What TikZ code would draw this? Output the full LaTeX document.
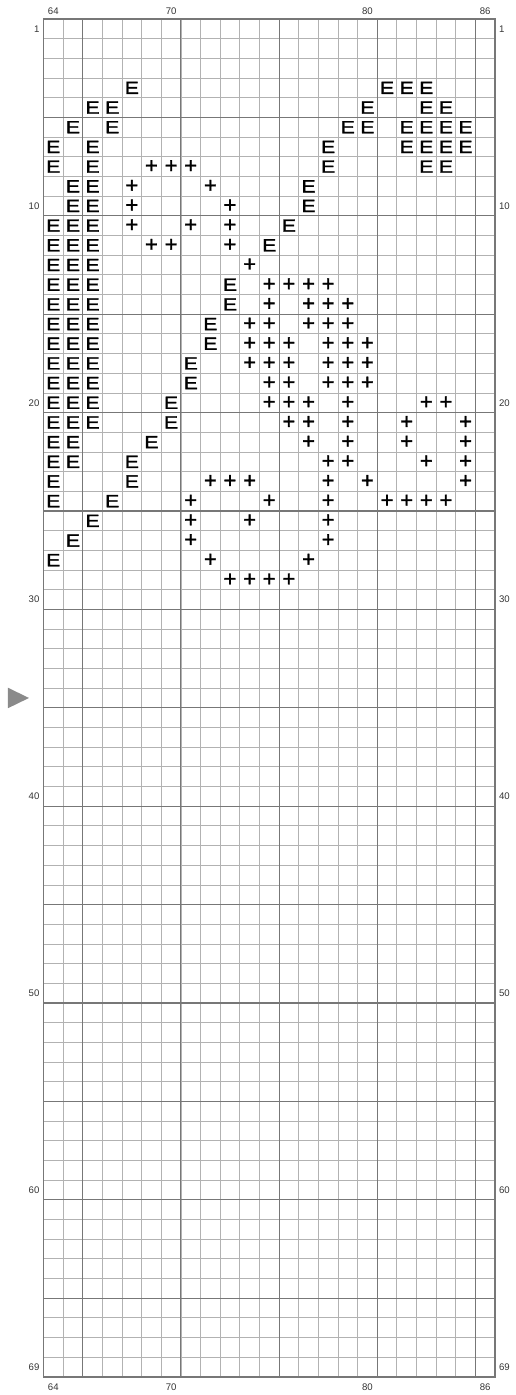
\documentclass[tikz,border=0pt]{standalone}
\usepackage{fontspec}
\setmainfont{Liberation Sans}
\usepackage{tikz}
\usetikzlibrary{positioning}
\definecolor{gridlo}{HTML}{B2B2B2}
\definecolor{gridhi}{HTML}{777777}
\definecolor{ink}{HTML}{333333}
\definecolor{marker}{HTML}{8A8A8A}
\newfontfamily\stitchfont[FakeStretch=1.2, FakeBold=1.6]{Liberation Sans}
\newfontfamily\plusfont[FakeBold=1.4]{Liberation Sans}
\newcommand{\stitchE}{\stitchfont\fontsize{17.7}{18}\selectfont}
\newcommand{\stitchP}{\plusfont\fontsize{22}{24}\selectfont}
\tikzset{
  gridthin/.style={draw=gridlo, line width=0.8pt},
  gridthick/.style={draw=gridhi, line width=1.1pt},
  gridframe/.style={draw=gridhi, line width=1.2pt},
  axislbl/.style={font=\fontsize{9.6}{10}\selectfont, text=ink, inner sep=0pt},
  stE/.style={font=\stitchE, text=black, inner sep=0pt},
  stP/.style={font=\stitchP, text=black, inner sep=0pt},
  midmark/.style={fill=marker, draw=none}
}

\begin{document}
\begin{tikzpicture}[x=19.63pt, y=-19.68pt]
  \useasboundingbox (-43.5pt,19pt) rectangle (471.5pt,-1376pt);
  % grid, heavier every fifth line
  \foreach \k in {1,...,22} \draw[gridthin] (\k,0) -- (\k,69);
  \foreach \r in {1,...,68} \draw[gridthin] (0,\r) -- (23,\r);
  \foreach \k in {2,7,...,22} \draw[gridthick] (\k,0) -- (\k,69);
  \foreach \r in {5,10,...,65} \draw[gridthick] (0,\r) -- (23,\r);
  \draw[gridframe] (0,0) rectangle (23,69);
  % column and row numbers
  \foreach \c in {64,70,80,86} {
    \node[axislbl] (top-\c) at (\c-63.5,-0.42) {\c};
    \node[axislbl] (bot-\c) at (\c-63.5,69.51) {\c};
  }
  \foreach \r in {1,10,20,30,40,50,60,69} {
    \node[axislbl, anchor=east] (lft-\r) at (-0.2,\r-0.5) {\r};
    \node[axislbl, anchor=west] (rgt-\r) at (23.2,\r-0.5) {\r};
  }
  \fill[midmark] (-1.81,33.98) -- (-0.74,34.5) -- (-1.81,35.02) -- cycle;
  % stitches: E
  \foreach \r/\cols in {4/{68,81,82,83}, 5/{66,67,80,83,84},
      6/{65,67,79,80,82,83,84,85}, 7/{64,66,78,82,83,84,85},
      8/{64,66,78,83,84}, 9/{65,66,77}, 10/{65,66,77},
      11/{64,65,66,76}, 12/{64,65,66,75}, 13/{64,65,66},
      14/{64,65,66,73}, 15/{64,65,66,73}, 16/{64,65,66,72},
      17/{64,65,66,72}, 18/{64,65,66,71}, 19/{64,65,66,71},
      20/{64,65,66,70}, 21/{64,65,66,70}, 22/{64,65,69},
      23/{64,65,68}, 24/{64,68}, 25/{64,67}, 26/{66}, 27/{65}, 28/{64}}
    \foreach \c in \cols
      \node[stE] (e-\r-\c) at (\c-63.5,\r-0.5) {E};
  % stitches: +
  \foreach \r/\cols in {8/{69,70,71}, 9/{68,72}, 10/{68,73},
      11/{68,71,73}, 12/{69,70,73}, 13/{74}, 14/{75,76,77,78},
      15/{75,77,78,79}, 16/{74,75,77,78,79}, 17/{74,75,76,78,79,80},
      18/{74,75,76,78,79,80}, 19/{75,76,78,79,80},
      20/{75,76,77,79,83,84}, 21/{76,77,79,82,85}, 22/{77,79,82,85},
      23/{78,79,83,85}, 24/{72,73,74,78,80,85},
      25/{71,75,78,81,82,83,84}, 26/{71,74,78}, 27/{71,78},
      28/{72,77}, 29/{73,74,75,76}}
    \foreach \c in \cols
      \node[stP] (p-\r-\c) at (\c-63.5,\r-0.5) {+};
\end{tikzpicture}
\end{document}
